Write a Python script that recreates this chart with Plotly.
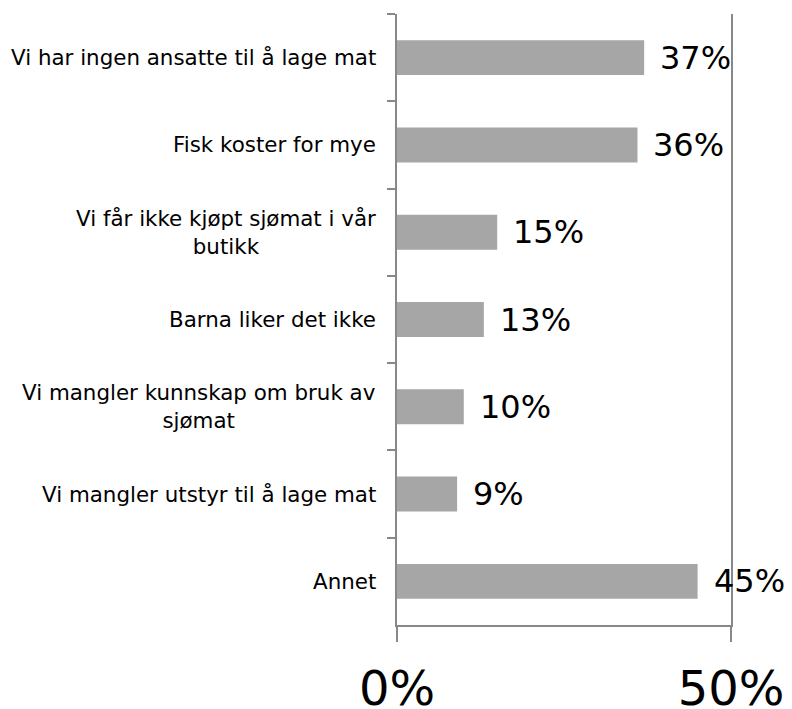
import plotly.graph_objects as go

categories = [
    "Vi har ingen ansatte til å lage mat",
    "Fisk koster for mye",
    "Vi får ikke kjøpt sjømat i vår<br>butikk",
    "Barna liker det ikke",
    "Vi mangler kunnskap om bruk av<br>sjømat",
    "Vi mangler utstyr til å lage mat",
    "Annet",
]
values = [0.37, 0.36, 0.15, 0.13, 0.10, 0.09, 0.45]
x_tickvals = [0, 0.5]
x_ticktext = ["0%", "50%"]

AXIS = "#888888"
FONT = "DejaVu Sans"

fig = go.Figure()
fig.add_trace(go.Bar(
    x=values, y=categories, orientation="h",
    marker=dict(color="#A6A6A6", line=dict(width=0)),
    width=0.4, hoverinfo="skip",
))

annotations = []
for c, v in zip(categories, values):
    annotations.append(dict(
        x=v, y=c, xref="x", yref="y", text=f"{round(v*100)}%",
        showarrow=False, xanchor="left", yanchor="middle", xshift=14,
        font=dict(family=FONT, size=32, color="black"),
    ))
    annotations.append(dict(
        x=0, y=c, xref="paper", yref="y", text=c,
        showarrow=False, xanchor="right", yanchor="middle", align="center",
        xshift=-19, font=dict(family=FONT, size=21.4, color="black"),
    ))

fig.update_layout(
    width=792, height=709,
    margin=dict(l=397, r=61, t=14, b=84),
    paper_bgcolor="white", plot_bgcolor="white",
    showlegend=False,
    annotations=annotations,
    xaxis=dict(
        range=[0, 0.5], tickvals=x_tickvals, ticktext=x_ticktext,
        showgrid=False,
        showline=True, linecolor=AXIS, linewidth=1.5,
        ticks="outside", ticklen=15, tickcolor=AXIS, tickwidth=1.5,
        tickfont=dict(family=FONT, size=48, color="black"),
        ticklabelstandoff=6, automargin=False,
        zeroline=False, fixedrange=True,
    ),
    yaxis=dict(
        type="category", categoryorder="array", categoryarray=categories,
        autorange="reversed", showticklabels=False, automargin=False,
        showline=True, mirror=True, linecolor=AXIS, linewidth=1.5,
        ticks="outside", ticklen=8, tickcolor=AXIS, tickwidth=1.5,
        tickson="boundaries", showgrid=False, zeroline=False,
        fixedrange=True,
    ),
)

fig.write_html(
    "out.html",
    config={"displayModeBar": False},
    post_script="document.body.style.margin='0';document.body.style.overflow='hidden';",
)
